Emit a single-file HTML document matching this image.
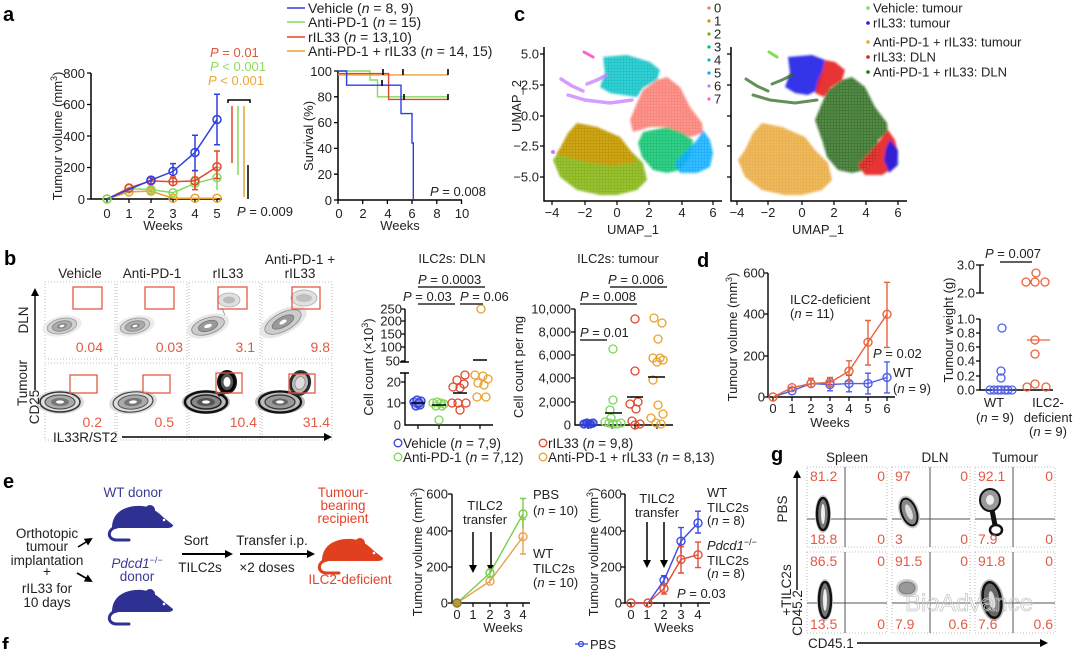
<!DOCTYPE html>
<html><head><meta charset="utf-8"><style>
html,body{margin:0;padding:0;background:#fff;}
svg{display:block;font-family:"Liberation Sans",Arial,sans-serif;}
</style></head><body>
<svg width="1080" height="649" viewBox="0 0 1080 649" xmlns="http://www.w3.org/2000/svg">
<defs>
<marker id="ah" markerWidth="8" markerHeight="8" refX="6" refY="4" orient="auto" markerUnits="userSpaceOnUse"><path d="M0,0 L8,4 L0,8 Z" fill="#000"/></marker>
<filter id="sb" x="-10%" y="-10%" width="120%" height="120%"><feGaussianBlur stdDeviation="1.1"/></filter>
<pattern id="speck" width="3" height="3" patternUnits="userSpaceOnUse"><circle cx="1" cy="1" r="0.55" fill="#fff"/></pattern>
</defs>
<rect width="1080" height="649" fill="#fff"/>

<!-- ============ PANEL A ============ -->
<text x="3" y="21" font-size="20" font-weight="bold">a</text>
<g font-size="13" fill="#222">
<path d="M91,73 V199 H222" stroke="#000" stroke-width="1.5" fill="none"/>
<path d="M87,73H91M87,104.5H91M87,136H91M87,167.5H91M87,199H91M107,199V203M129,199V203M151,199V203M173,199V203M195,199V203M217,199V203" stroke="#000" stroke-width="1.3"/>
<g text-anchor="end"><text x="85" y="78">800</text><text x="85" y="109">600</text><text x="85" y="141">400</text><text x="85" y="172">200</text><text x="85" y="204">0</text></g>
<g text-anchor="middle"><text x="107" y="218">0</text><text x="129" y="218">1</text><text x="151" y="218">2</text><text x="173" y="218">3</text><text x="195" y="218">4</text><text x="217" y="218">5</text><text x="163" y="230">Weeks</text></g>
<text transform="translate(62,136) rotate(-90)" text-anchor="middle">Tumour volume (mm<tspan dy="-5" font-size="9">3</tspan><tspan dy="5">)</tspan></text>
</g>
<g fill="none" stroke-width="1.5">
<g stroke="#e8a22e"><polyline points="107,199 129,191.9 151,191.1 173,198.2 195,198.2 217,198.2"/><path d="M129,189.5V194.3M126,189.5H132M151,189V193M148,189H154"/>
<circle cx="107" cy="199" r="4"/><circle cx="129" cy="191.9" r="4"/><circle cx="151" cy="191.1" r="4"/><circle cx="173" cy="198.2" r="4"/><circle cx="195" cy="198.2" r="4"/><circle cx="217" cy="198.2" r="4"/></g>
<g stroke="#86d95a"><polyline points="107,199 129,188.8 151,189.6 173,192.7 195,183.3 217,177.7"/><path d="M217,167.5V190M214,167.5H220M195,177V190M192,177H198"/>
<circle cx="129" cy="188.8" r="4"/><circle cx="151" cy="189.6" r="4"/><circle cx="173" cy="192.7" r="4"/><circle cx="195" cy="183.3" r="4"/><circle cx="217" cy="177.7" r="4"/></g>
<g stroke="#e2472c"><polyline points="107,199 129,188 151,180.9 173,181.7 195,180.9 217,166.7"/><path d="M217,151V178.5M214,151H220M214,178.5H220M195,170.6V189.6M192,170.6H198M192,189.6H198M173,177V186.4M170,177H176M151,178V184M148,178H154"/>
<circle cx="129" cy="188" r="4"/><circle cx="151" cy="180.9" r="4"/><circle cx="173" cy="181.7" r="4"/><circle cx="195" cy="180.9" r="4"/><circle cx="217" cy="166.7" r="4"/></g>
<g stroke="#2f3fe0"><polyline points="107,199 129,189.5 151,180.1 173,171.4 195,152.5 217,119.5"/><path d="M217,94.3V144.7M214,94.3H220M214,144.7H220M195,135.2V170.6M192,135.2H198M192,170.6H198M173,163.6V175.4M170,163.6H176M151,177.7V182.5"/>
<circle cx="173" cy="171.4" r="4"/><circle cx="195" cy="152.5" r="4"/><circle cx="217" cy="119.5" r="4"/><circle cx="151" cy="180.1" r="4"/></g>
<circle cx="107" cy="199" r="4" stroke="#86d95a"/>
</g>
<g font-size="13">
<text x="210" y="57" fill="#e2553a"><tspan font-style="italic">P</tspan> = 0.01</text>
<text x="210" y="71" fill="#8fdc5c"><tspan font-style="italic">P</tspan> &lt; 0.001</text>
<text x="208" y="85" fill="#e8a83a"><tspan font-style="italic">P</tspan> &lt; 0.001</text>
<text x="237" y="216" fill="#222"><tspan font-style="italic">P</tspan> = 0.009</text>
</g>
<path d="M228,103V100H250V103" stroke="#000" stroke-width="1.5" fill="none"/>
<path d="M232,106V163" stroke="#e2472c" stroke-width="1.5"/>
<path d="M238,106V175" stroke="#86d95a" stroke-width="1.5"/>
<path d="M244,106V197" stroke="#e8a22e" stroke-width="1.5"/>
<path d="M248,165V199" stroke="#000" stroke-width="1.5"/>

<!-- survival -->
<g font-size="13" fill="#222">
<path d="M338,71 V200 H462" stroke="#000" stroke-width="1.5" fill="none"/>
<path d="M334,71H338M334,96.8H338M334,122.6H338M334,148.4H338M334,174.2H338M334,200H338M338,200V204M362.7,200V204M387.4,200V204M412,200V204M436.8,200V204M461.5,200V204" stroke="#000" stroke-width="1.3"/>
<g text-anchor="end"><text x="332" y="76">100</text><text x="332" y="101.5">80</text><text x="332" y="127">60</text><text x="332" y="153">40</text><text x="332" y="179">20</text><text x="332" y="205">0</text></g>
<g text-anchor="middle"><text x="339" y="218">0</text><text x="363" y="218">2</text><text x="388" y="218">4</text><text x="412" y="218">6</text><text x="437" y="218">8</text><text x="462" y="218">10</text><text x="400" y="230">Weeks</text></g>
<text transform="translate(313,136) rotate(-90)" text-anchor="middle">Survival (%)</text>
<text x="430" y="196"><tspan font-style="italic">P</tspan> = 0.008</text>
</g>
<g fill="none" stroke-width="1.4">
<path d="M338,74.9H448" stroke="#e8a22e"/>
<path d="M338,71H370V80H377.5V96.8H448" stroke="#86d95a"/>
<path d="M338,73.6H388.6V99.4H448" stroke="#e2472c"/>
<path d="M338,71H346.6V85.2H401V113.6H412V143H413.3V200" stroke="#2f3fe0"/>
</g>
<path d="M383,69V75M403,69V75M448,69V75M382,80V86M404,94V100M448,94V100" stroke="#000" stroke-width="1.6"/>
<!-- legend a -->
<g stroke-width="1.5"><path d="M287,8H305" stroke="#2f3fe0"/><path d="M287,22H305" stroke="#86d95a"/><path d="M287,37H305" stroke="#e2472c"/><path d="M287,51H305" stroke="#e8a22e"/></g>
<g font-size="14" fill="#222">
<text x="308" y="13">Vehicle (<tspan font-style="italic">n</tspan> = 8, 9)</text>
<text x="308" y="27">Anti-PD-1 (<tspan font-style="italic">n</tspan> = 15)</text>
<text x="308" y="42">rIL33 (<tspan font-style="italic">n</tspan> = 13,10)</text>
<text x="308" y="56">Anti-PD-1 + rIL33 (<tspan font-style="italic">n</tspan> = 14, 15)</text>
</g>

<!-- ============ PANEL C ============ -->
<text x="514" y="21" font-size="20" font-weight="bold">c</text>
<g font-size="13" fill="#222">
<path d="M544,47 V201 H722" stroke="#000" stroke-width="1.5" fill="none"/>
<path d="M540,54H544M540,85H544M540,116H544M540,146H544M540,177H544M552,201V205M585,201V205M617,201V205M649,201V205M682,201V205M713,201V205" stroke="#000" stroke-width="1.2"/>
<g text-anchor="end"><text x="539" y="58.5">5.0</text><text x="539" y="89.5">2.5</text><text x="539" y="120.5">0.0</text><text x="539" y="150.5">−2.5</text><text x="539" y="181.5">−5.0</text></g>
<g text-anchor="middle"><text x="552" y="217">−4</text><text x="585" y="217">−2</text><text x="617" y="217">0</text><text x="649" y="217">2</text><text x="682" y="217">4</text><text x="713" y="217">6</text><text x="633" y="234">UMAP_1</text>
<text x="737" y="217">−4</text><text x="768" y="217">−2</text><text x="802" y="217">0</text><text x="834" y="217">2</text><text x="866" y="217">4</text><text x="898" y="217">6</text><text x="818" y="234">UMAP_1</text></g>
<text transform="translate(521,106) rotate(-90)" text-anchor="middle">UMAP_2</text>
<path d="M731,47 V201 H907" stroke="#000" stroke-width="1.5" fill="none"/>
<path d="M727,54H731M727,85H731M727,116H731M727,146H731M727,177H731M737,201V205M768,201V205M802,201V205M834,201V205M866,201V205M898,201V205" stroke="#000" stroke-width="1.2"/>
</g>
<!-- left UMAP -->
<g filter="url(#sb)" fill-opacity="0.88">
<polygon fill="#7CAE00" points="577,123 597,127 620,137 630,150 643,163 647,180 637,190 617,195 600,195 577,190 560,177 553,160 560,150 568,133"/>
<polygon fill="#CD9600" points="577,123 597,127 620,137 630,150 637,162 612,166 590,163 570,158 556,154 560,148 568,133"/>
<polygon fill="#00BFC4" points="603,57 627,55 650,62 660,70 657,80 643,88 637,97 623,95 610,93 600,87 605,73"/>
<polygon fill="#F8766D" points="667,77 680,87 690,107 702,123 703,133 690,137 677,133 667,127 650,127 633,132 630,120 637,103 643,90 657,80"/>
<polygon fill="#00BE67" points="643,132 667,127 683,133 693,140 690,157 680,170 667,173 653,170 642,157 638,143"/>
<polygon fill="#00A9FF" points="703,130 710,140 713,153 710,167 697,173 680,173 675,163 687,150 697,140"/>
</g>
<g fill="none" stroke="#C77CFF" stroke-width="3.5" stroke-opacity="0.75" stroke-linecap="round">
<polyline points="568,95 585,100 610,103 632,100"/><polyline points="561,79 572,86 583,91"/><polyline points="587,84 597,80 607,75"/>
</g>
<path d="M584,52 L593,57" stroke="#FF61CC" stroke-width="3" stroke-linecap="round"/>
<circle cx="553" cy="152" r="2" fill="#C77CFF"/>
<g fill="url(#speck)" opacity="0.6">
<polygon points="577,123 597,127 620,137 630,150 643,163 647,180 637,190 617,195 600,195 577,190 560,177 553,160 560,150 568,133"/>
<polygon points="603,57 627,55 650,62 660,70 657,80 643,88 637,97 623,95 610,93 600,87 605,73"/>
<polygon points="667,77 680,87 690,107 702,123 703,133 690,137 677,133 667,127 650,127 633,132 630,120 637,103 643,90 657,80"/>
<polygon points="643,132 667,127 683,133 693,140 690,157 680,170 667,173 653,170 642,157 638,143"/>
<polygon points="703,130 710,140 713,153 710,167 697,173 680,173 675,163 687,150 697,140"/>
</g>
<!-- right UMAP -->
<g filter="url(#sb)" fill-opacity="0.9">
<polygon fill="#E9A93A" points="762,123 782,127 805,137 815,150 828,163 832,180 822,190 802,195 785,195 762,190 745,177 738,160 745,150 753,133"/>
<polygon fill="#2E6B1E" points="852,77 865,87 875,107 887,123 888,133 878,140 878,157 865,170 852,173 838,170 827,157 823,143 815,120 822,103 828,90 842,80"/>
<polygon fill="#1F1FE6" points="788,57 812,55 825,60 822,75 818,90 808,95 795,93 785,87 790,73"/>
<polygon fill="#E62020" points="825,60 835,62 845,70 842,80 830,88 824,97 815,93 818,80 822,72"/>
<polygon fill="#E62020" points="888,130 895,140 898,153 895,167 882,175 865,175 858,165 870,152 880,140"/>
<polygon fill="#1F1FE6" points="890,140 898,150 898,165 889,173 884,160 886,148"/>
</g>
<g fill="none" stroke="#2E6B1E" stroke-width="3" stroke-opacity="0.75" stroke-linecap="round">
<polyline points="753,95 770,100 795,103 817,100"/><polyline points="746,79 757,86 768,91"/><polyline points="772,84 782,80 792,75"/>
</g>
<path d="M769,52 L777,57" stroke="#7CE050" stroke-width="3" stroke-linecap="round"/>
<g fill="url(#speck)" opacity="0.55">
<polygon points="762,123 782,127 805,137 815,150 828,163 832,180 822,190 802,195 785,195 762,190 745,177 738,160 745,150 753,133"/>
<polygon points="852,77 865,87 875,107 887,123 888,133 878,140 878,157 865,170 852,173 838,170 827,157 823,143 815,120 822,103 828,90 842,80"/>
</g>
<!-- c legends -->
<g font-size="13" fill="#222">
<g fill="#F8766D"><circle cx="709" cy="8" r="1.6"/></g><text x="714" y="12.5">0</text>
<circle cx="709" cy="21" r="1.6" fill="#CD9600"/><text x="714" y="25.5">1</text>
<circle cx="709" cy="34" r="1.6" fill="#7CAE00"/><text x="714" y="38.5">2</text>
<circle cx="709" cy="47" r="1.6" fill="#00BE67"/><text x="714" y="51.5">3</text>
<circle cx="709" cy="60" r="1.6" fill="#00BFC4"/><text x="714" y="64.5">4</text>
<circle cx="709" cy="73" r="1.6" fill="#00A9FF"/><text x="714" y="77.5">5</text>
<circle cx="709" cy="86" r="1.6" fill="#C77CFF"/><text x="714" y="90.5">6</text>
<circle cx="709" cy="99" r="1.6" fill="#FF61CC"/><text x="714" y="103.5">7</text>
<circle cx="868" cy="8" r="1.8" fill="#7CE050"/><text x="873" y="12.5">Vehicle: tumour</text>
<circle cx="868" cy="23" r="1.8" fill="#1F1FE6"/><text x="873" y="27.5">rIL33: tumour</text>
<circle cx="868" cy="42" r="1.8" fill="#E9A93A"/><text x="873" y="46.5">Anti-PD-1 + rIL33: tumour</text>
<circle cx="868" cy="57" r="1.8" fill="#E62020"/><text x="873" y="61.5">rIL33: DLN</text>
<circle cx="868" cy="72" r="1.8" fill="#2E6B1E"/><text x="873" y="76.5">Anti-PD-1 + rIL33: DLN</text>
</g>

<!-- ============ PANEL B ============ -->
<text x="4" y="265" font-size="20" font-weight="bold">b</text>
<g font-size="13.5" fill="#222" text-anchor="middle">
<text x="80" y="278">Vehicle</text><text x="152" y="278">Anti-PD-1</text><text x="228" y="278">rIL33</text>
<text x="300" y="264">Anti-PD-1 +</text><text x="300" y="278">rIL33</text>
</g>
<g fill="none" stroke="#aaa" stroke-width="0.8" stroke-dasharray="1,2">
<rect x="45" y="282" width="70" height="77"/><rect x="117" y="282" width="70" height="77"/><rect x="189" y="282" width="71" height="77"/><rect x="262" y="282" width="70" height="77"/>
<rect x="45" y="363" width="70" height="77"/><rect x="117" y="363" width="70" height="77"/><rect x="189" y="363" width="71" height="77"/><rect x="262" y="363" width="70" height="77"/>
</g>
<!-- DLN row contours -->
<g>
<g transform="translate(62,326) rotate(-12)"><ellipse rx="20" ry="10" fill="#ececec"/><ellipse rx="15" ry="7.5" fill="#d0d0d0" stroke="#999" stroke-width=".8"/><ellipse rx="10" ry="5" fill="#aaa" stroke="#888" stroke-width=".8"/><ellipse rx="5" ry="2.5" fill="#888"/><ellipse rx="2.5" ry="1.1" fill="#fff"/></g>
<g transform="translate(135,326) rotate(-12)"><ellipse rx="20" ry="10" fill="#ececec"/><ellipse rx="15" ry="7.5" fill="#d0d0d0" stroke="#999" stroke-width=".8"/><ellipse rx="10" ry="5" fill="#aaa" stroke="#888" stroke-width=".8"/><ellipse rx="5" ry="2.5" fill="#888"/><ellipse rx="2.5" ry="1.1" fill="#fff"/></g>
<g transform="translate(229,300)"><ellipse rx="11" ry="7" fill="#e0e0e0" stroke="#aaa" stroke-width=".8"/><ellipse rx="6" ry="3.5" fill="#bbb"/></g>
<path d="M222,308 L226,318 L220,325" stroke="#999" fill="none"/>
<g transform="translate(208,326) rotate(-18)"><ellipse rx="22" ry="11" fill="#e8e8e8"/><ellipse rx="17" ry="8" fill="#ccc" stroke="#888" stroke-width=".8"/><ellipse rx="10" ry="5" fill="#999" stroke="#777" stroke-width=".8"/><ellipse rx="4" ry="1.8" fill="#fff"/></g>
<g transform="translate(304,298)"><ellipse rx="13" ry="8" fill="#e0e0e0" stroke="#aaa" stroke-width=".8"/><ellipse rx="8" ry="4" fill="#c0c0c0"/></g>
<g transform="translate(283,322) rotate(-28)"><ellipse rx="26" ry="12" fill="#e6e6e6"/><ellipse rx="20" ry="9" fill="#ccc" stroke="#888" stroke-width=".8"/><ellipse rx="12" ry="5" fill="#999" stroke="#777" stroke-width=".8"/><ellipse rx="4" ry="1.8" fill="#fff"/></g>
</g>
<!-- Tumour row contours -->
<g>
<g transform="translate(60,402)"><ellipse rx="24" ry="12" fill="#ddd"/><ellipse rx="20" ry="10" fill="none" stroke="#333" stroke-width="1.6"/><ellipse rx="15" ry="7" fill="#aaa" stroke="#444" stroke-width="1"/><ellipse rx="9" ry="4" fill="#777"/><ellipse rx="4" ry="1.6" fill="#fff"/></g>
<g transform="translate(133,402) rotate(-6)"><ellipse rx="24" ry="12" fill="#ddd"/><ellipse rx="20" ry="10" fill="none" stroke="#444" stroke-width="1.2"/><ellipse rx="15" ry="7" fill="#aaa" stroke="#555" stroke-width="1"/><ellipse rx="9" ry="4" fill="#777"/><ellipse rx="4" ry="1.6" fill="#fff"/></g>
<g transform="translate(206,402)"><ellipse rx="24" ry="12" fill="#bbb"/><ellipse rx="21" ry="10.5" fill="none" stroke="#111" stroke-width="2.5"/><ellipse rx="15" ry="7" fill="#888" stroke="#222" stroke-width="1.5"/><ellipse rx="9" ry="4" fill="#555"/><ellipse rx="4" ry="1.6" fill="#fff"/></g>
<path d="M218,395 Q224,392 226,392" stroke="#111" stroke-width="4" fill="none"/>
<g transform="translate(227,382)"><ellipse rx="10" ry="12" fill="#111"/><ellipse rx="7" ry="9" fill="#555" stroke="#000" stroke-width="1.5"/><ellipse rx="3.5" ry="5" fill="#fff"/></g>
<g transform="translate(280,402)"><ellipse rx="25" ry="12" fill="#bbb"/><ellipse rx="21" ry="10.5" fill="none" stroke="#111" stroke-width="2.3"/><ellipse rx="15" ry="7" fill="#999" stroke="#333" stroke-width="1.2"/><ellipse rx="8" ry="3.5" fill="#666"/><ellipse rx="4" ry="1.6" fill="#fff"/></g>
<g transform="translate(300,383) rotate(15)"><ellipse rx="11" ry="13" fill="#333"/><ellipse rx="8.5" ry="10.5" fill="#bbb" stroke="#222" stroke-width="1.2"/><ellipse rx="5" ry="6.5" fill="#ddd" stroke="#888" stroke-width=".8"/></g>
</g>
<g fill="none" stroke="#e25a45" stroke-width="1.3">
<rect x="73" y="287" width="29" height="22"/><rect x="145" y="287" width="29" height="22"/><rect x="218" y="287" width="29" height="22"/><rect x="292" y="287" width="28" height="22"/>
<rect x="70" y="375" width="27" height="18"/><rect x="143" y="375" width="27" height="18"/><rect x="216" y="373" width="26" height="20"/><rect x="289" y="374" width="26" height="19"/>
</g>
<g font-size="14" fill="#e25a45" text-anchor="end">
<text x="103" y="352">0.04</text><text x="183" y="352">0.03</text><text x="255" y="352">3.1</text><text x="330" y="352">9.8</text>
<text x="102" y="427">0.2</text><text x="174" y="427">0.5</text><text x="257" y="427">10.4</text><text x="330" y="427">31.4</text>
</g>
<path d="M35,390 V290" stroke="#000" stroke-width="1.4" marker-end="url(#ah)"/>
<path d="M122,437 H330" stroke="#000" stroke-width="1.4" marker-end="url(#ah)"/>
<g font-size="13.5" fill="#222">
<text transform="translate(28,320) rotate(-90)" text-anchor="middle">DLN</text>
<text transform="translate(27,383) rotate(-90)" text-anchor="middle">Tumour</text>
<text transform="translate(39,407) rotate(-90)" text-anchor="middle">CD25</text>
<text x="53" y="442">IL33R/ST2</text>
</g>

<!-- DLN counts -->
<g font-size="13" fill="#222">
<text x="452" y="263" text-anchor="middle">ILC2s: DLN</text>
<text x="418" y="284"><tspan font-style="italic">P</tspan> = 0.0003</text>
<text x="403" y="301"><tspan font-style="italic">P</tspan> = 0.03</text>
<text x="460" y="301"><tspan font-style="italic">P</tspan> = 0.06</text>
<text x="618" y="263" text-anchor="middle">ILC2s: tumour</text>
<text x="608" y="284"><tspan font-style="italic">P</tspan> = 0.006</text>
<text x="580" y="301"><tspan font-style="italic">P</tspan> = 0.008</text>
<text x="580" y="337"><tspan font-style="italic">P</tspan> = 0.01</text>
</g>
<path d="M418,287H485M418,304H455M460,304H483M610,287H667M580,304H637M580,340H607" stroke="#000" stroke-width="1.3"/>
<g font-size="13" fill="#222">
<path d="M405,309V362M405,373V425H493M400,362H409M400,373H409" stroke="#000" stroke-width="1.4" fill="none"/>
<path d="M401,309H405M401,321H405M401,334H405M401,347H405M401,361H405M401,382H405M401,403H405M418,425V429M439,425V429M460,425V429M480,425V429" stroke="#000" stroke-width="1.2"/>
<g text-anchor="end"><text x="402" y="313.5">250</text><text x="402" y="325.5">200</text><text x="402" y="338.5">150</text><text x="402" y="351.5">100</text><text x="400" y="365.5">50</text><text x="401" y="386.5">20</text><text x="401" y="407.5">10</text><text x="401" y="429.5">0</text></g>
<text transform="translate(373,367) rotate(-90)" text-anchor="middle">Cell count (×10<tspan dy="-5" font-size="9">3</tspan><tspan dy="5">)</tspan></text>
</g>
<g fill="none" stroke-width="1.3">
<g stroke="#2f3fd8" fill="#7a85e6" fill-opacity="0.5"><circle cx="414" cy="402" r="4"/><circle cx="418" cy="404" r="4"/><circle cx="421" cy="401" r="4"/><circle cx="416" cy="406" r="4"/><circle cx="420" cy="405" r="4"/><circle cx="417" cy="400" r="4"/><circle cx="419" cy="403" r="4"/></g>
<g stroke="#7fd65a"><circle cx="433" cy="403" r="4"/><circle cx="437" cy="402" r="4"/><circle cx="441" cy="403" r="4"/><circle cx="444" cy="404" r="4"/><circle cx="436" cy="406" r="4"/><circle cx="442" cy="406" r="4"/><circle cx="439" cy="420" r="4"/></g>
<g stroke="#e2472c"><circle cx="457" cy="380" r="4"/><circle cx="465" cy="375" r="4"/><circle cx="453" cy="387" r="4"/><circle cx="460" cy="388" r="4"/><circle cx="464" cy="384" r="4"/><circle cx="458" cy="403" r="4"/><circle cx="466" cy="403" r="4"/><circle cx="452" cy="403" r="4"/><circle cx="460" cy="410" r="4"/></g>
<g stroke="#e8a22e"><circle cx="481" cy="309" r="4"/><circle cx="475" cy="375" r="4"/><circle cx="483" cy="376" r="4"/><circle cx="488" cy="379" r="4"/><circle cx="478" cy="383" r="4"/><circle cx="484" cy="385" r="4"/><circle cx="477" cy="397" r="4"/><circle cx="486" cy="397" r="4"/></g>
</g>
<path d="M411,403H425M432,405H446M453,393H467M473,360H487" stroke="#000" stroke-width="1.6"/>
<!-- tumour counts -->
<g font-size="13" fill="#222">
<path d="M575,309V425H673" stroke="#000" stroke-width="1.4" fill="none"/>
<path d="M571,309H575M571,332H575M571,355H575M571,378H575M571,402H575M588,425V429M612,425V429M635,425V429M657,425V429" stroke="#000" stroke-width="1.2"/>
<g text-anchor="end"><text x="571" y="313.5">10,000</text><text x="571" y="336.5">8,000</text><text x="571" y="359.5">6,000</text><text x="571" y="382.5">4,000</text><text x="571" y="406.5">2,000</text><text x="571" y="429.5">0</text></g>
<text transform="translate(523,367) rotate(-90)" text-anchor="middle">Cell count per mg</text>
</g>
<g fill="none" stroke-width="1.3">
<g stroke="#2f3fd8" fill="#2f3fd8" fill-opacity="0.6"><circle cx="584" cy="424" r="4"/><circle cx="587" cy="423" r="4"/><circle cx="590" cy="424" r="4"/><circle cx="593" cy="423" r="4"/></g>
<g stroke="#7fd65a"><circle cx="613" cy="349" r="4"/><circle cx="613" cy="400" r="4"/><circle cx="610" cy="410" r="4"/><circle cx="605" cy="422" r="4"/><circle cx="609" cy="423" r="4"/><circle cx="613" cy="424" r="4"/><circle cx="617" cy="424" r="4"/><circle cx="621" cy="423" r="4"/><circle cx="611" cy="418" r="4"/></g>
<g stroke="#e2472c"><circle cx="635" cy="319" r="4"/><circle cx="635" cy="371" r="4"/><circle cx="638" cy="402" r="4"/><circle cx="630" cy="404" r="4"/><circle cx="636" cy="409" r="4"/><circle cx="632" cy="421" r="4"/><circle cx="635" cy="425" r="4"/><circle cx="640" cy="424" r="4"/></g>
<g stroke="#e8a22e"><circle cx="654" cy="318" r="4"/><circle cx="662" cy="323" r="4"/><circle cx="658" cy="339" r="4"/><circle cx="653" cy="358" r="4"/><circle cx="660" cy="358" r="4"/><circle cx="657" cy="362" r="4"/><circle cx="663" cy="360" r="4"/><circle cx="653" cy="380" r="4"/><circle cx="658" cy="405" r="4"/><circle cx="663" cy="414" r="4"/><circle cx="651" cy="418" r="4"/><circle cx="656" cy="423" r="4"/><circle cx="661" cy="424" r="4"/></g>
</g>
<path d="M605,413H622M627,397H643M648,377H665" stroke="#000" stroke-width="1.6"/>
<!-- legend b -->
<g fill="none" stroke-width="1.3"><circle cx="398" cy="443" r="3.8" stroke="#2f3fd8"/><circle cx="398" cy="457" r="3.8" stroke="#7fd65a"/><circle cx="543" cy="443" r="3.8" stroke="#e2472c"/><circle cx="543" cy="457" r="3.8" stroke="#e8a22e"/></g>
<g font-size="13.5" fill="#222">
<text x="403" y="448">Vehicle (<tspan font-style="italic">n</tspan> = 7,9)</text>
<text x="403" y="462">Anti-PD-1 (<tspan font-style="italic">n</tspan> = 7,12)</text>
<text x="548" y="448">rIL33 (<tspan font-style="italic">n</tspan> = 9,8)</text>
<text x="548" y="462">Anti-PD-1 + rIL33 (<tspan font-style="italic">n</tspan> = 8,13)</text>
</g>

<!-- ============ PANEL D ============ -->
<text x="697" y="267" font-size="20" font-weight="bold">d</text>
<g font-size="13" fill="#222">
<path d="M768,273V397H895" stroke="#000" stroke-width="1.4" fill="none"/>
<path d="M764,273H768M764,314H768M764,356H768M764,397H768M773,397V401M792,397V401M811,397V401M830,397V401M849,397V401M868,397V401M887,397V401" stroke="#000" stroke-width="1.2"/>
<g text-anchor="end"><text x="765" y="277.5">600</text><text x="765" y="318.5">400</text><text x="765" y="360.5">200</text><text x="765" y="401.5">0</text></g>
<g text-anchor="middle"><text x="773" y="413">0</text><text x="792" y="413">1</text><text x="811" y="413">2</text><text x="830" y="413">3</text><text x="849" y="413">4</text><text x="868" y="413">5</text><text x="887" y="413">6</text><text x="830" y="427">Weeks</text></g>
<text transform="translate(737,337) rotate(-90)" text-anchor="middle">Tumour volume (mm<tspan dy="-5" font-size="9">3</tspan><tspan dy="5">)</tspan></text>
<text x="790" y="304">ILC2-deficient</text>
<text x="790" y="318">(<tspan font-style="italic">n</tspan> = 11)</text>
<text x="873" y="358"><tspan font-style="italic">P</tspan> = 0.02</text>
<text x="893" y="377">WT</text>
<text x="893" y="393">(<tspan font-style="italic">n</tspan> = 9)</text>
</g>
<g fill="none" stroke-width="1.4">
<g stroke="#4f5fe6"><polyline points="773,397 792,390.8 811,383.6 830,384.6 849,383.6 868,383.6 887,377.4"/>
<path d="M887,361.9V392.9M884,361.9H890M884,392.9H890M868,373.2V393.9M865,373.2H871M865,393.9H871M849,375.3V391.8M846,375.3H852M846,391.8H852M830,378.4V390.8M827,378.4H833M827,390.8H833M811,378.4V388M808,378.4H814"/>
<circle cx="792" cy="390.8" r="4"/><circle cx="811" cy="383.6" r="4"/><circle cx="830" cy="384.6" r="4"/><circle cx="849" cy="383.6" r="4"/><circle cx="868" cy="383.6" r="4"/><circle cx="887" cy="377.4" r="4"/></g>
<g stroke="#e8643c"><polyline points="773,397 792,387.7 811,383.6 830,382.5 849,371.2 868,342.2 887,314.3"/>
<path d="M887,282.3V347.4M884,282.3H890M884,347.4H890M868,320.5V365M865,320.5H871M865,365H871M849,360.8V381.5M846,360.8H852M846,381.5H852M830,377.4V387.7M827,377.4H833M811,378.4V387.7M808,378.4H814M792,385.6V390"/>
<circle cx="773" cy="397" r="4"/><circle cx="792" cy="387.7" r="4"/><circle cx="811" cy="383.6" r="4"/><circle cx="830" cy="382.5" r="4"/><circle cx="849" cy="371.2" r="4"/><circle cx="868" cy="342.2" r="4"/><circle cx="887" cy="314.3" r="4"/></g>
</g>
<!-- tumour weight -->
<g font-size="13" fill="#222">
<path d="M980,265V293M980,319V390H1053" stroke="#000" stroke-width="1.4" fill="none"/>
<path d="M976,265H984M976,293H984M976,319H980M976,333H980M976,347H980M976,361H980M976,376H980M976,390H980" stroke="#000" stroke-width="1.2"/>
<g text-anchor="end"><text x="975" y="269.5">3.0</text><text x="975" y="297.5">2.0</text><text x="975" y="323.5">1.0</text><text x="975" y="337.5">0.8</text><text x="975" y="351.5">0.6</text><text x="975" y="365.5">0.4</text><text x="975" y="380.5">0.2</text><text x="975" y="394.5">0.0</text></g>
<text transform="translate(953,330) rotate(-90)" text-anchor="middle">Tumour weight (g)</text>
<text x="985" y="258"><tspan font-style="italic">P</tspan> = 0.007</text>
<g text-anchor="middle"><text x="994" y="407">WT</text><text x="995" y="422">(<tspan font-style="italic">n</tspan> = 9)</text><text x="1048" y="407">ILC2-</text><text x="1048" y="422">deficient</text><text x="1048" y="436">(<tspan font-style="italic">n</tspan> = 9)</text></g>
</g>
<path d="M1000,262H1032" stroke="#000" stroke-width="1.3"/>
<g fill="none" stroke-width="1.3">
<g stroke="#4f5fe6"><circle cx="1002" cy="328" r="4"/><circle cx="1001" cy="371" r="4"/><circle cx="1001" cy="378" r="4"/><circle cx="990" cy="390" r="4"/><circle cx="994" cy="390" r="4"/><circle cx="998" cy="390" r="4"/><circle cx="1001" cy="390" r="4"/><circle cx="1005" cy="390" r="4"/><circle cx="1008" cy="390" r="4"/><circle cx="1012" cy="390" r="4"/></g>
<g stroke="#e8643c"><circle cx="1036" cy="273" r="4"/><circle cx="1026" cy="282" r="4"/><circle cx="1035" cy="282" r="4"/><circle cx="1045" cy="282" r="4"/><circle cx="1035" cy="340" r="4"/><circle cx="1035" cy="354" r="4"/><circle cx="1035" cy="384" r="4"/><circle cx="1027" cy="387" r="4"/><circle cx="1046" cy="387" r="4"/></g>
</g>
<path d="M1027,340H1050" stroke="#e8643c" stroke-width="1.3"/>
<path d="M992,390H1008" stroke="#4f5fe6" stroke-width="1.3"/>

<!-- ============ PANEL E ============ -->
<text x="3" y="488" font-size="20" font-weight="bold">e</text>
<g font-size="13.5">
<text x="133" y="497" text-anchor="middle" fill="#3b3b96">WT donor</text>
<text x="137" y="568" text-anchor="middle" fill="#3b3b96"><tspan font-style="italic">Pdcd1</tspan><tspan dy="-5" font-size="9">−/−</tspan></text>
<text x="137" y="581" text-anchor="middle" fill="#3b3b96">donor</text>
<g fill="#222" text-anchor="middle">
<text x="47" y="538">Orthotopic</text><text x="47" y="551">tumour</text><text x="47" y="565">implantation</text><text x="47" y="576">+</text><text x="47" y="593">rIL33 for</text><text x="47" y="607">10 days</text>
<text x="196" y="545">Sort</text><text x="200" y="572">TILC2s</text>
<text x="272" y="545">Transfer i.p.</text><text x="267" y="572">×2 doses</text>
</g>
<g fill="#e0452a" text-anchor="middle"><text x="343" y="497">Tumour-</text><text x="343" y="510">bearing</text><text x="343" y="523">recipient</text><text x="350" y="584">ILC2-deficient</text></g>
</g>
<path d="M78,547 L91,539" stroke="#000" stroke-width="1.6" marker-end="url(#ah)"/>
<path d="M77,573 L91,581" stroke="#000" stroke-width="1.6" marker-end="url(#ah)"/>
<path d="M182,554 H231" stroke="#000" stroke-width="2" marker-end="url(#ah)"/>
<path d="M240,554 H313" stroke="#000" stroke-width="2" marker-end="url(#ah)"/>
<!-- mice -->
<g transform="translate(107,503)" fill="#2e3192">
<path d="M5,25 C5,8 20,2 35,3 C45,4 52,10 56,14 L66,22 C66,25 62,25 58,25 Z"/><circle cx="43" cy="7" r="5"/><circle cx="57" cy="17" r="1.3" fill="#fff"/>
<path d="M10,24 C1,25 -1,36 9,37 L22,37" fill="none" stroke="#2e3192" stroke-width="3" stroke-linecap="round"/></g>
<g transform="translate(107,587)" fill="#2e3192">
<path d="M5,25 C5,8 20,2 35,3 C45,4 52,10 56,14 L66,22 C66,25 62,25 58,25 Z"/><circle cx="43" cy="7" r="5"/><circle cx="57" cy="17" r="1.3" fill="#fff"/>
<path d="M10,24 C1,25 -1,36 9,37 L22,37" fill="none" stroke="#2e3192" stroke-width="3" stroke-linecap="round"/></g>
<g transform="translate(317,536)" fill="#e0401e">
<path d="M5,25 C5,8 20,2 35,3 C45,4 52,10 56,14 L66,22 C66,25 62,25 58,25 Z"/><circle cx="43" cy="7" r="5"/><circle cx="57" cy="17" r="1.3" fill="#fff"/>
<path d="M10,24 C1,25 -1,36 9,37 L22,37" fill="none" stroke="#e0401e" stroke-width="3" stroke-linecap="round"/></g>

<!-- e chart 1 -->
<g font-size="13" fill="#222">
<path d="M452,494V603H530" stroke="#000" stroke-width="1.4" fill="none"/>
<path d="M448,494H452M448,531H452M448,567H452M448,603H452M457,603V607M473,603V607M490,603V607M507,603V607M523,603V607" stroke="#000" stroke-width="1.2"/>
<g text-anchor="end"><text x="448" y="498.5">600</text><text x="448" y="535.5">400</text><text x="448" y="571.5">200</text><text x="448" y="607.5">0</text></g>
<g text-anchor="middle"><text x="457" y="619">0</text><text x="473" y="619">1</text><text x="490" y="619">2</text><text x="507" y="619">3</text><text x="523" y="619">4</text><text x="503" y="632">Weeks</text>
<text x="485" y="510">TILC2</text><text x="485" y="524">transfer</text></g>
<text transform="translate(422,552) rotate(-90)" text-anchor="middle">Tumour volume (mm<tspan dy="-5" font-size="9">3</tspan><tspan dy="5">)</tspan></text>
<text x="533" y="499">PBS</text><text x="533" y="515">(<tspan font-style="italic">n</tspan> = 10)</text>
<text x="533" y="558">WT</text><text x="533" y="573">TILC2s</text><text x="533" y="587">(<tspan font-style="italic">n</tspan> = 10)</text>
</g>
<path d="M473,532V571" stroke="#000" stroke-width="1.5" marker-end="url(#ah)"/>
<path d="M491,532V571" stroke="#000" stroke-width="1.5" marker-end="url(#ah)"/>
<g fill="none" stroke-width="1.4">
<g stroke="#eba050"><polyline points="457,603 490,581.2 523,536.7"/><path d="M523,519.4V554M520,519.4H526M520,554H526M490,578.5V583.9"/><circle cx="490" cy="581.2" r="4"/><circle cx="523" cy="536.7" r="4"/></g>
<g stroke="#7ccd50"><polyline points="457,603 490,573 523,514"/><path d="M523,498.5V528.5M520,498.5H526M490,569.4V576.7M487,569.4H493"/><circle cx="490" cy="573" r="4"/><circle cx="523" cy="514" r="4"/></g>
<circle cx="457" cy="603" r="4" stroke="#8a7a30" fill="#b59a3a"/>
</g>
<!-- e chart 2 -->
<g font-size="13" fill="#222">
<path d="M625,494V603H710" stroke="#000" stroke-width="1.4" fill="none"/>
<path d="M621,494H625M621,531H625M621,567H625M621,603H625M631,603V607M647,603V607M664,603V607M681,603V607M698,603V607" stroke="#000" stroke-width="1.2"/>
<g text-anchor="end"><text x="622" y="498.5">600</text><text x="622" y="535.5">400</text><text x="622" y="571.5">200</text><text x="622" y="607.5">0</text></g>
<g text-anchor="middle"><text x="631" y="619">0</text><text x="647" y="619">1</text><text x="664" y="619">2</text><text x="681" y="619">3</text><text x="698" y="619">4</text><text x="674" y="632">Weeks</text>
<text x="657" y="503">TILC2</text><text x="657" y="517">transfer</text></g>
<text transform="translate(598,552) rotate(-90)" text-anchor="middle">Tumour volume (mm<tspan dy="-5" font-size="9">3</tspan><tspan dy="5">)</tspan></text>
<text x="707" y="497">WT</text><text x="707" y="512">TILC2s</text><text x="707" y="525">(<tspan font-style="italic">n</tspan> = 8)</text>
<text x="707" y="550"><tspan font-style="italic">Pdcd1</tspan><tspan dy="-5" font-size="9">−/−</tspan></text><text x="707" y="565">TILC2s</text><text x="707" y="578">(<tspan font-style="italic">n</tspan> = 8)</text>
<text x="677" y="598"><tspan font-style="italic">P</tspan> = 0.03</text>
</g>
<path d="M647,522V566" stroke="#000" stroke-width="1.5" marker-end="url(#ah)"/>
<path d="M664,522V566" stroke="#000" stroke-width="1.5" marker-end="url(#ah)"/>
<g fill="none" stroke-width="1.4">
<g stroke="#3b4be6"><polyline points="631,603 648,603 664,580.3 681,541.2 698,523"/><path d="M698,511.2V533M695,511.2H701M695,533H701M681,527.6V554M678,527.6H684M664,575.7V586.6M661,575.7H667"/><circle cx="664" cy="580.3" r="4"/><circle cx="681" cy="541.2" r="4"/><circle cx="698" cy="523" r="4"/></g>
<g stroke="#e0503a"><polyline points="631,603 648,603 664,588.5 681,559.4 698,554.8"/><path d="M698,542.1V567.6M695,542.1H701M695,567.6H701M681,546.7V573M678,546.7H684M678,573H684M664,583V594M661,594H667"/><circle cx="631" cy="603" r="4"/><circle cx="648" cy="603" r="4"/><circle cx="664" cy="588.5" r="4"/><circle cx="681" cy="559.4" r="4"/><circle cx="698" cy="554.8" r="4"/></g>
</g>

<!-- ============ PANEL G ============ -->
<text x="771" y="461" font-size="20" font-weight="bold">g</text>
<g font-size="13.5" fill="#222" text-anchor="middle"><text x="847" y="462">Spleen</text><text x="935" y="462">DLN</text><text x="1015" y="462">Tumour</text></g>
<g fill="none" stroke="#aaa" stroke-width="0.8" stroke-dasharray="1,2">
<rect x="807" y="467" width="80" height="80"/><rect x="892" y="467" width="78" height="80"/><rect x="975" y="467" width="80" height="80"/>
<rect x="807" y="552" width="80" height="81"/><rect x="892" y="552" width="78" height="81"/><rect x="975" y="552" width="80" height="81"/>
</g>
<g stroke="#555" stroke-width="1">
<path d="M845,467V547M807,519H887M930,467V547M892,519H970M1013,467V547M975,519H1055"/>
<path d="M845,552V633M807,603H887M930,552V633M892,603H970M1013,552V633M975,603H1055"/>
</g>
<g>
<g transform="translate(823,514)"><ellipse rx="8" ry="19" fill="#ccc"/><ellipse rx="6" ry="16" fill="#777" stroke="#111" stroke-width="2.5"/><ellipse rx="2" ry="10" fill="#eee"/></g>
<g transform="translate(909,512) rotate(-20)"><ellipse rx="10" ry="17" fill="#ccc"/><ellipse rx="7.5" ry="14" fill="#888" stroke="#111" stroke-width="2"/><ellipse rx="3" ry="8" fill="#ddd"/></g>
<g transform="translate(990,500)"><ellipse rx="10" ry="11" fill="#999" stroke="#111" stroke-width="2"/><ellipse rx="4" ry="5" fill="#eee"/></g>
<path d="M992,510 L995,525" stroke="#111" stroke-width="5"/>
<g transform="translate(996,530)"><ellipse rx="6" ry="5" fill="#fff" stroke="#111" stroke-width="2.5"/></g>
<g transform="translate(825,600)"><ellipse rx="8" ry="21" fill="#ccc"/><ellipse rx="6" ry="18" fill="#777" stroke="#111" stroke-width="2.5"/><ellipse rx="2" ry="11" fill="#eee"/></g>
<g transform="translate(907,588)"><ellipse rx="11" ry="9" fill="#ccc"/><ellipse rx="8" ry="6" fill="#999" stroke="#777" stroke-width="1"/></g>
<g transform="translate(992,600) rotate(-10)"><ellipse rx="12" ry="21" fill="#bbb"/><ellipse rx="9" ry="18" fill="#666" stroke="#111" stroke-width="2.5"/><ellipse rx="3" ry="9" fill="#ddd"/></g>
</g>
<g font-size="14" fill="#e25a45">
<text x="810" y="481">81.2</text><text x="885" y="481" text-anchor="end">0</text><text x="810" y="544">18.8</text><text x="885" y="544" text-anchor="end">0</text>
<text x="895" y="481">97</text><text x="968" y="481" text-anchor="end">0</text><text x="895" y="544">3</text><text x="968" y="544" text-anchor="end">0</text>
<text x="978" y="481">92.1</text><text x="1053" y="481" text-anchor="end">0</text><text x="978" y="544">7.9</text><text x="1053" y="544" text-anchor="end">0</text>
<text x="810" y="566">86.5</text><text x="885" y="566" text-anchor="end">0</text><text x="810" y="629">13.5</text><text x="885" y="629" text-anchor="end">0</text>
<text x="895" y="566">91.5</text><text x="968" y="566" text-anchor="end">0</text><text x="895" y="629">7.9</text><text x="968" y="629" text-anchor="end">0.6</text>
<text x="978" y="566">91.8</text><text x="1053" y="566" text-anchor="end">0</text><text x="978" y="629">7.6</text><text x="1053" y="629" text-anchor="end">0.6</text>
</g>
<text x="905" y="611" font-size="24" fill="none" stroke="#c8c8c8" stroke-width="0.8">BioAdvance</text>
<path d="M797,590 V472" stroke="#000" stroke-width="1.4" marker-end="url(#ah)"/>
<path d="M857,643 H1046" stroke="#000" stroke-width="1.4" marker-end="url(#ah)"/>
<g font-size="13.5" fill="#222">
<text transform="translate(787,509) rotate(-90)" text-anchor="middle">PBS</text>
<text transform="translate(791,590) rotate(-90)" text-anchor="middle">+TILC2s</text>
<text transform="translate(802,613) rotate(-90)" text-anchor="middle">CD45.2</text>
<text x="808" y="648">CD45.1</text>
</g>

<!-- bottom: f -->
<text x="2" y="652" font-size="20" font-weight="bold">f</text>
<path d="M575,644H588" stroke="#3b4be6" stroke-width="1.3"/><circle cx="581" cy="644" r="2.5" fill="none" stroke="#3b4be6" stroke-width="1.3"/>
<text x="590" y="649" font-size="13" fill="#222">PBS</text>
</svg>
</body></html>
